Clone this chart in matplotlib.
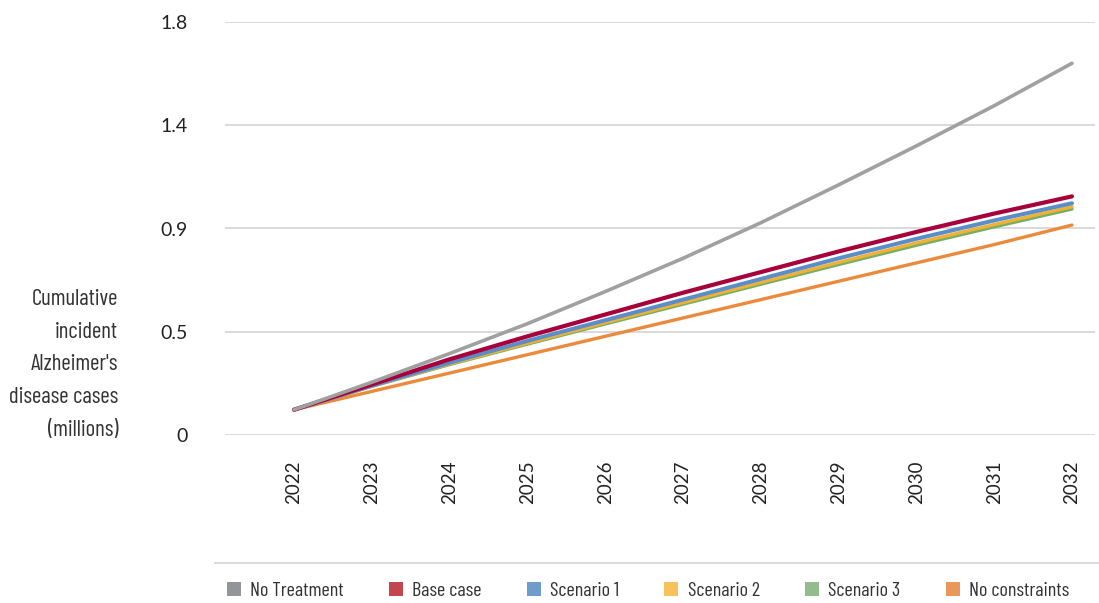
import matplotlib
matplotlib.use("Agg")
import matplotlib.pyplot as plt
from matplotlib.lines import Line2D
from matplotlib import font_manager

years = [2022, 2023, 2024, 2025, 2026, 2027, 2028, 2029, 2030, 2031, 2032]
year_labels = ["2022", "2023", "2024", "2025", "2026", "2027", "2028", "2029", "2030", "2031", "2032"]

no_treatment = [0.11, 0.23, 0.355, 0.485, 0.625, 0.77, 0.925, 1.09, 1.26, 1.435, 1.62]
base_case = [0.11, 0.22, 0.33, 0.43, 0.525, 0.62, 0.71, 0.80, 0.885, 0.965, 1.04]
scenario_1 = [0.11, 0.215, 0.315, 0.41, 0.50, 0.59, 0.68, 0.77, 0.855, 0.935, 1.01]
scenario_2 = [0.11, 0.213, 0.31, 0.40, 0.49, 0.577, 0.665, 0.752, 0.837, 0.917, 0.995]
scenario_3 = [0.11, 0.212, 0.307, 0.396, 0.484, 0.57, 0.657, 0.743, 0.827, 0.907, 0.985]
no_constraints = [0.11, 0.19, 0.27, 0.35, 0.43, 0.51, 0.59, 0.67, 0.75, 0.83, 0.915]

series_names = ["No Treatment", "Base case", "Scenario 1", "Scenario 2", "Scenario 3", "No constraints"]
series_values = [no_treatment, base_case, scenario_1, scenario_2, scenario_3, no_constraints]
line_colors = ["#A0A0A0", "#A8003A", "#5B8DC9", "#F2B134", "#76AE63", "#EC8A3C"]
legend_colors = ["#939598", "#C3454F", "#6E9CCB", "#F7C25C", "#94BB8E", "#E9975B"]
line_widths = [2.6, 3.0, 2.9, 2.4, 2.4, 2.4]
z_orders = [8, 7, 6, 5, 4, 3]

y_ticks = [0, 0.45, 0.9, 1.35, 1.8]
y_tick_labels = ["0", "0.5", "0.9", "1.4", "1.8"]

ylabel_text = "Cumulative\nincident\nAlzheimer's\ndisease cases\n(millions)"

names = {f.name for f in font_manager.fontManager.ttflist}


def pick(prefs):
    for p in prefs:
        if p in names:
            return p
    return "DejaVu Sans"


narrow = pick(["Barlow Condensed", "Roboto Condensed", "PT Sans Narrow", "Fira Sans Condensed",
               "Archivo Narrow", "Barlow Semi Condensed", "Liberation Sans Narrow"])
numfont = pick(["Lato", "DejaVu Sans"])

W, H = 1099, 603
fig = plt.figure(figsize=(W / 100, H / 100), dpi=100)
ax = fig.add_axes([225 / W, 1 - 435 / H, 870 / W, 413 / H])

for name, vals, c, lw, z in zip(series_names, series_values, line_colors, line_widths, z_orders):
    ax.plot(years, vals, color=c, lw=lw, zorder=z, solid_capstyle="round", solid_joinstyle="round")

ax.set_ylim(0, 1.8)
ax.set_xlim(2021.113, 2032.296)
ax.set_yticks(y_ticks)
ax.set_yticklabels(y_tick_labels, fontsize=14, color="#222222", family=numfont, weight="normal")
ax.set_xticks(years)
ax.set_xticklabels(year_labels, rotation=90, fontsize=13.5, color="#222222", family=numfont, weight="normal")
ax.tick_params(axis="y", length=0, pad=27)
ax.tick_params(axis="x", length=0, pad=18)
for s in ax.spines.values():
    s.set_visible(False)
ax.grid(axis="y", color="#D9D9D9", lw=1.4)
ax.set_axisbelow(True)

fig.text(118 / W, 1 - 365 / H, ylabel_text, ha="right", va="center", multialignment="right",
         fontsize=16.5, family=narrow, color="#333333", linespacing=1.72)

fig.add_artist(Line2D([215 / W, 1.0], [1 - 563 / H] * 2, transform=fig.transFigure,
                      color="#D9D9D9", lw=1.4))

handles = [Line2D([], [], marker="s", ls="none", markersize=10.5, color=c, markeredgewidth=0)
           for c in legend_colors]
fig.legend(handles, series_names, loc="center left", bbox_to_anchor=(226 / W, 1 - 591 / H),
           ncol=6, frameon=False, prop={"family": narrow, "size": 14.5},
           handlelength=0.75, handletextpad=0.45, columnspacing=2.2,
           borderpad=0, borderaxespad=0, labelcolor="#333333")

fig.savefig("out.png", dpi=100)
